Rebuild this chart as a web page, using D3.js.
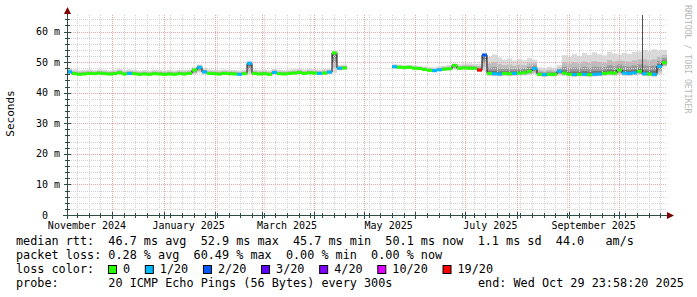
<!DOCTYPE html>
<html>
<head>
<meta charset="utf-8">
<script src="https://cdn.jsdelivr.net/npm/d3@7"></script>
<style>
  html, body { margin: 0; padding: 0; background: #fff; }
  svg { display: block; }
  text { font-family: "DejaVu Sans Mono", monospace; white-space: pre; }
</style>
</head>
<body>
<svg id="chart" width="697" height="297"></svg>
<script>
// time range of the graph, one sample every 3 days
const startDate = new Date(2024, 10, 4);
const endDate = new Date(2025, 9, 30);
const stepDays = 3;

// median rtt (ms) per sample, null = no data
const median = [
  46.8, 46.2, 46.0, 46.1, 46.3, 46.2, 46.4, 46.2, 46.1, 46.2,
  46.5, 46.1, 46.3, 46.2, 46.0, 46.1, 46.0, 46.2, 46.1, 46.0,
  46.1, 46.0, 46.2, 46.1, 46.3, 47.4, 48.3, 46.8, 46.3, 46.2,
  46.1, 46.3, 46.2, 46.1, 46.0, 46.2, 49.6, 46.3, 46.1, 46.2,
  46.0, 46.6, 46.2, 46.1, 46.3, 46.4, 46.6, 46.3, 46.5, 46.4,
  46.3, 46.4, 46.7, 53.0, 48.0, 48.1, null, null, null, null,
  null, null, null, null, null, 48.5, 48.3, 48.2, 48.3, 48.0,
  47.9, 47.6, 47.3, 47.2, 47.5, 47.7, 47.8, 48.9, 48.0, 48.1,
  48.0, 48.0, 47.4, 52.3, 46.3, 46.2, 46.1, 46.3, 46.2, 46.3,
  46.4, 46.5, 47.0, 47.9, 46.0, 45.9, 46.0, 46.0, 47.0, 46.4,
  46.0, 45.9, 46.0, 46.0, 45.9, 46.0, 46.1, 46.3, 46.5, 46.4,
  47.4, 46.4, 46.3, 46.5, 47.0, 46.2, 46.1, 46.0, 48.6, 49.8
];

// lost pings out of 20 per sample
const loss = [
  1, 0, 0, 0, 0, 0, 0, 0, 0, 0,
  0, 0, 1, 0, 0, 0, 0, 0, 0, 0,
  0, 0, 0, 0, 0, 0, 1, 1, 0, 0,
  0, 0, 0, 0, 1, 0, 1, 0, 0, 0,
  0, 1, 0, 0, 0, 0, 0, 0, 0, 0,
  1, 0, 1, 0, 1, 0, 0, 0, 0, 0,
  0, 0, 0, 0, 0, 1, 0, 0, 0, 0,
  0, 0, 0, 1, 1, 0, 0, 0, 0, 0,
  0, 0, 19, 2, 0, 1, 1, 0, 0, 1,
  0, 0, 0, 1, 0, 1, 0, 0, 1, 0,
  0, 1, 0, 1, 0, 1, 1, 0, 0, 0,
  0, 1, 1, 1, 0, 1, 0, 1, 1, 0
];

// fastest and slowest ping per sample (ms)
const smokeMin = [
  46.0, 45.8, 45.7, 45.8, 45.9, 45.8, 45.9, 45.8, 45.7, 45.8,
  45.9, 45.7, 45.8, 45.8, 45.6, 45.7, 45.6, 45.8, 45.7, 45.6,
  45.7, 45.6, 45.8, 45.7, 45.8, 46.0, 46.5, 46.0, 45.8, 45.8,
  45.7, 45.8, 45.8, 45.7, 45.6, 45.8, 46.0, 45.8, 45.7, 45.8,
  45.6, 45.9, 45.8, 45.7, 45.9, 45.9, 46.0, 45.9, 46.0, 45.9,
  45.9, 45.9, 46.1, 46.5, 47.3, 47.4, null, null, null, null,
  null, null, null, null, null, 47.8, 47.7, 47.6, 47.7, 47.5,
  47.4, 47.1, 46.8, 46.7, 47.0, 47.2, 47.3, 47.5, 47.4, 47.5,
  47.4, 47.4, 46.8, 47.0, 45.5, 45.4, 45.3, 45.5, 45.4, 45.5,
  45.6, 45.6, 45.8, 46.0, 45.3, 45.2, 45.3, 45.3, 45.6, 45.5,
  45.3, 45.2, 45.3, 45.3, 45.2, 45.3, 45.4, 45.5, 45.6, 45.5,
  45.8, 45.5, 45.5, 45.6, 45.8, 45.4, 45.3, 45.2, 46.0, 48.5
];
const smokeMax = [
  48.0, 47.6, 47.4, 47.5, 47.6, 47.4, 47.6, 47.5, 47.3, 47.5,
  47.8, 47.4, 47.6, 47.5, 47.3, 47.4, 47.3, 47.5, 47.4, 47.3,
  47.4, 47.3, 47.5, 47.4, 47.6, 48.4, 49.2, 48.0, 47.6, 47.5,
  47.4, 47.6, 47.5, 47.4, 47.3, 47.5, 50.4, 47.6, 47.4, 47.5,
  47.3, 47.8, 47.5, 47.4, 47.6, 47.7, 47.9, 47.6, 47.8, 47.7,
  47.6, 47.7, 47.9, 53.6, 49.0, 49.2, null, null, null, null,
  null, null, null, null, null, 49.3, 49.2, 49.0, 49.1, 48.9,
  48.8, 48.6, 48.4, 48.3, 48.6, 48.8, 49.0, 49.6, 49.3, 49.5,
  49.6, 49.4, 49.5, 53.0, 51.7, 52.5, 51.5, 50.8, 51.2, 50.5,
  51.0, 50.6, 51.3, 50.8, 48.3, 48.0, 48.5, 48.2, 49.0, 52.3,
  51.8, 52.6, 52.0, 53.0, 52.4, 53.2, 52.6, 52.2, 53.4, 52.8,
  52.5, 53.0, 52.7, 53.3, 53.5, 54.0, 53.6, 54.2, 53.8, 54.0
];

// single very slow pings
const outlierDates = [new Date(2025, 9, 15)];
const outlierValues = [65.4];

const yMajor = [0, 10, 20, 30, 40, 50, 60];
const yLabels = ["0  ", "10 m", "20 m", "30 m", "40 m", "50 m", "60 m"];
const xLabels = ["November 2024", "January 2025", "March 2025", "May 2025", "July 2025", "September 2025"];
const xLabelDates = [new Date(2024, 10, 16), new Date(2025, 0, 16), new Date(2025, 2, 16),
                     new Date(2025, 4, 16), new Date(2025, 6, 16), new Date(2025, 8, 16)];

const lossLevels = [0, 1, 2, 3, 4, 10, 19];
const lossLabels = ["0", "1/20", "2/20", "3/20", "4/20", "10/20", "19/20"];
const lossColors = ["#26ff00", "#00b8ff", "#0059ff", "#5e00ff", "#7e00ff", "#dd00ff", "#ff0000"];

const statsLine1 = "median rtt:  46.7 ms avg  52.9 ms max  45.7 ms min  50.1 ms now  1.1 ms sd  44.0   am/s";
const statsLine2 = "packet loss: 0.28 % avg  60.49 % max  0.00 % min  0.00 % now";
const probeText = "probe:       20 ICMP Echo Pings (56 Bytes) every 300s";
const endText = "end: Wed Oct 29 23:58:20 2025";

const svg = d3.select("#chart");
svg.append("rect").attr("width", 697).attr("height", 297).attr("fill", "#fff");

const x = d3.scaleTime().domain([startDate, endDate]).range([67, 667]);
const y = d3.scaleLinear().domain([0, 65.4]).range([215, 15]);
const sampleDate = i => d3.timeDay.offset(startDate, i * stepDays);

function lossColor(l) {
  let c = lossColors[0];
  lossLevels.forEach((lv, k) => { if (l >= lv) c = lossColors[k]; });
  return c;
}

// smoke: shades get darker towards the median
const smokeG = svg.append("g");
const shades = [
  {lo: 1.0, hi: 1.0, color: "#dadada"},
  {lo: 0.75, hi: 0.6, color: "#bdbdbd"},
  {lo: 0.5, hi: 0.35, color: "#9a9a9a"},
  {lo: 0.25, hi: 0.15, color: "#747474"}
];
median.forEach((m, i) => {
  if (m == null) return;
  const x0 = x(sampleDate(i)), x1 = x(sampleDate(i + 1));
  shades.forEach(s => {
    const top = m + (smokeMax[i] - m) * s.hi;
    const bot = m - (m - smokeMin[i]) * s.lo;
    smokeG.append("rect")
      .attr("x", x0).attr("width", x1 - x0)
      .attr("y", y(top)).attr("height", y(bot) - y(top))
      .attr("fill", s.color);
  });
});
outlierDates.forEach((d, k) => {
  const i = Math.floor(d3.timeDay.count(startDate, d) / stepDays);
  smokeG.append("line")
    .attr("x1", Math.round(x(d)) + 0.5).attr("x2", Math.round(x(d)) + 0.5)
    .attr("y1", y(median[i])).attr("y2", y(outlierValues[k]))
    .attr("stroke", "#505050").attr("stroke-width", 1);
});

// grid
const minorGrid = "#d2d2d2", majorGrid = "#e8a6a6";
const gridG = svg.append("g").attr("shape-rendering", "crispEdges");
d3.range(2, 65, 2).filter(v => v % 10 !== 0).forEach(v => {
  gridG.append("line").attr("x1", 67).attr("x2", 667)
    .attr("y1", Math.round(y(v)) + 0.5).attr("y2", Math.round(y(v)) + 0.5)
    .attr("stroke", minorGrid).attr("stroke-dasharray", "1,1");
});
d3.timeSunday.range(startDate, endDate).forEach(d => {
  const px = Math.round(x(d)) + 0.5;
  gridG.append("line").attr("x1", px).attr("x2", px).attr("y1", 15).attr("y2", 215)
    .attr("stroke", minorGrid).attr("stroke-dasharray", "1,1");
});
yMajor.filter(v => v > 0).forEach(v => {
  gridG.append("line").attr("x1", 67).attr("x2", 667)
    .attr("y1", Math.round(y(v)) + 0.5).attr("y2", Math.round(y(v)) + 0.5)
    .attr("stroke", majorGrid).attr("stroke-dasharray", "1,1");
});
d3.timeMonth.range(startDate, endDate).forEach(d => {
  const px = Math.round(x(d)) + 0.5;
  gridG.append("line").attr("x1", px).attr("x2", px).attr("y1", 15).attr("y2", 215)
    .attr("stroke", majorGrid).attr("stroke-dasharray", "1,1");
});

// median line (black) with loss coloured bands on top
const pts = [];
median.forEach((m, i) => {
  if (m == null) { pts.push(null); return; }
  pts.push([x(sampleDate(i)), y(m)]);
  pts.push([x(sampleDate(i + 1)), y(m)]);
});
svg.append("path")
  .attr("d", d3.line().defined(p => p != null)(pts))
  .attr("fill", "none").attr("stroke", "#111").attr("stroke-width", 1);

median.forEach((m, i) => {
  if (m == null) return;
  const x0 = x(sampleDate(i)), x1 = x(sampleDate(i + 1));
  svg.append("rect")
    .attr("x", x0).attr("width", x1 - x0)
    .attr("y", y(m) - 1.5).attr("height", 3)
    .attr("fill", lossColor(loss[i]));
});

// axes
const axisColor = "#2c4d43", arrowColor = "#7f0000";
const axG = svg.append("g").attr("shape-rendering", "crispEdges");
axG.append("line").attr("x1", 63).attr("x2", 670).attr("y1", 215.5).attr("y2", 215.5).attr("stroke", axisColor);
axG.append("line").attr("x1", 67.5).attr("x2", 67.5).attr("y1", 219).attr("y2", 11).attr("stroke", axisColor);
d3.range(2, 65, 2).forEach(v => {
  const py = Math.round(y(v)) + 0.5;
  const big = v % 10 === 0;
  axG.append("line").attr("x1", big ? 64 : 65).attr("x2", big ? 71 : 70)
    .attr("y1", py).attr("y2", py).attr("stroke", axisColor);
});
d3.timeSunday.range(startDate, endDate).forEach(d => {
  const px = Math.round(x(d)) + 0.5;
  axG.append("line").attr("x1", px).attr("x2", px).attr("y1", 213).attr("y2", 218).attr("stroke", axisColor);
});
d3.timeMonth.range(startDate, endDate).forEach(d => {
  const px = Math.round(x(d)) + 0.5;
  axG.append("line").attr("x1", px).attr("x2", px).attr("y1", 212).attr("y2", 219).attr("stroke", axisColor);
});
svg.append("path").attr("d", "M667,212 L674,215.5 L667,219 Z").attr("fill", arrowColor);
svg.append("path").attr("d", "M64,14 L67.5,7 L71,14 Z").attr("fill", arrowColor);

// tick labels
svg.append("g").selectAll("text").data(yMajor).join("text")
  .attr("x", 60).attr("y", d => y(d)).attr("dy", "0.36em")
  .attr("text-anchor", "end").attr("font-size", 10).attr("fill", "#000")
  .text((d, i) => yLabels[i]);
svg.append("g").selectAll("text").data(xLabelDates).join("text")
  .attr("x", d => x(d)).attr("y", 229)
  .attr("text-anchor", "middle").attr("font-size", 10).attr("fill", "#000")
  .text((d, i) => xLabels[i]);

// axis title and watermark
svg.append("text").attr("transform", "translate(14,113.5) rotate(-90)")
  .attr("text-anchor", "middle").attr("font-size", 11).text("Seconds");
svg.append("text").attr("transform", "translate(685,5) rotate(90)")
  .attr("font-size", 8.2).attr("fill", "#b8b8b8").text("RRDTOOL / TOBI OETIKER");

// legend
const lg = svg.append("g").attr("font-size", 11.8).attr("fill", "#000");
lg.append("text").attr("x", 16).attr("y", 245).text(statsLine1);
lg.append("text").attr("x", 16).attr("y", 259).text(statsLine2);
lg.append("text").attr("x", 16).attr("y", 273).text("loss color:");
lg.append("text").attr("x", 16).attr("y", 287).text(probeText);
lg.append("text").attr("x", 478).attr("y", 287).text(endText);

let bx = 108;
lossLabels.forEach((lab, k) => {
  lg.append("rect").attr("x", bx + 0.5).attr("y", 265.5).attr("width", 8).attr("height", 8)
    .attr("fill", lossColors[k]).attr("stroke", "#000").attr("stroke-width", 1);
  const t = lg.append("text").attr("x", bx + 15).attr("y", 273).text(lab);
  bx = bx + 15 + t.node().getComputedTextLength() + 14.7;
});
</script>
</body>
</html>
